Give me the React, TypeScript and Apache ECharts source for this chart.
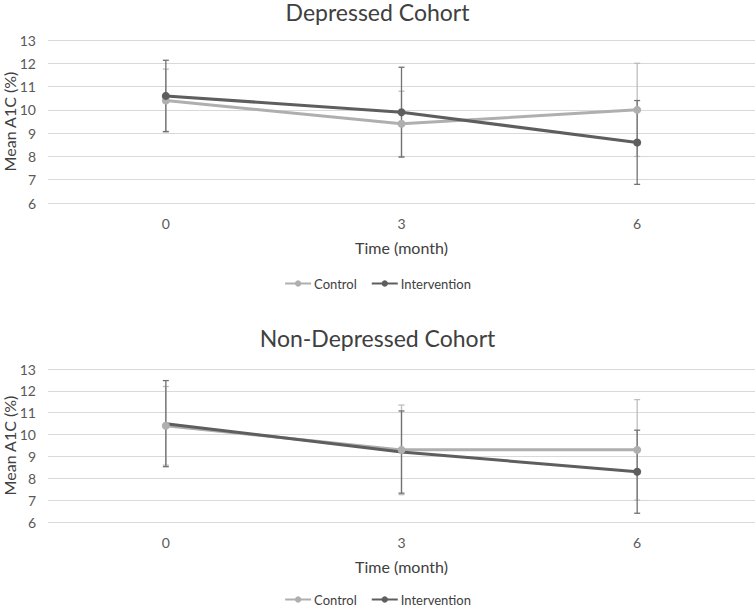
import React, { useEffect, useRef } from "react";
import * as echarts from "echarts";

const categories = ["0", "3", "6"];
const depControl = [10.4, 9.4, 10.0];
const depControlErr = [1.35, 1.4, 2.0];
const depInterv = [10.6, 9.9, 8.6];
const depIntervErr = [1.53, 1.93, 1.8];
const nonControl = [10.4, 9.3, 9.3];
const nonControlErr = [1.8, 2.05, 2.3];
const nonInterv = [10.5, 9.2, 8.3];
const nonIntervErr = [1.97, 1.88, 1.9];
const yTicks = { min: 6, max: 13, interval: 1 };

const CTRL = "#afafaf";
const INTV = "#5e5e5e";
const CTRL_ERR = "#bdbdbd";
const INTV_ERR = "#727272";
const FONT = "Lato, 'Open Sans', sans-serif";

function errData(vals: number[], errs: number[]) {
  return vals.map((v, i) => [i, v - errs[i], v + errs[i]]);
}

function errSeries(name: string, vals: number[], errs: number[], color: string, idx: number) {
  return {
    type: "custom",
    name: name + "-err",
    xAxisIndex: idx,
    yAxisIndex: idx,
    data: errData(vals, errs),
    encode: { x: 0, y: [1, 2] },
    z: 3,
    silent: true,
    renderItem: (params: any, api: any) => {
      const x = api.value(0);
      const lo = api.coord([x, api.value(1)]);
      const hi = api.coord([x, api.value(2)]);
      const hw = 3;
      const style = { stroke: color, lineWidth: 1.3 };
      return {
        type: "group",
        children: [
          { type: "line", shape: { x1: lo[0], y1: lo[1], x2: hi[0], y2: hi[1] }, style },
          { type: "line", shape: { x1: lo[0] - hw, y1: lo[1], x2: lo[0] + hw, y2: lo[1] }, style },
          { type: "line", shape: { x1: hi[0] - hw, y1: hi[1], x2: hi[0] + hw, y2: hi[1] }, style },
        ],
      };
    },
  };
}

function lineSeries(name: string, vals: any[], color: string, idx: number, symbol = "circle") {
  return {
    type: "line",
    name,
    xAxisIndex: idx,
    yAxisIndex: idx,
    data: vals,
    symbol,
    symbolSize: 8,
    showSymbol: true,
    lineStyle: { color, width: 3 },
    itemStyle: { color },
    z: 4,
  };
}

export default function App() {
  const ref = useRef<HTMLDivElement>(null);
  useEffect(() => {
    if (!ref.current) return;
    const chart = echarts.init(ref.current, null, { renderer: "svg" });
    const grids = [
      { left: 48, right: 0, top: 40, height: 163, containLabel: false, outerBoundsMode: "none" },
      { left: 48, right: 0, top: 369, height: 153, containLabel: false, outerBoundsMode: "none" },
    ];
    const xAxes = grids.map((_, i) => ({
      type: "category",
      gridIndex: i,
      data: categories,
      boundaryGap: true,
      axisLine: { show: false },
      axisTick: { show: false },
      axisLabel: { color: "#595959", fontSize: 14, fontFamily: FONT, margin: 13 },
      name: "Time (month)",
      nameLocation: "middle",
      nameGap: 36,
      nameTextStyle: { color: "#404040", fontSize: 16, fontFamily: FONT },
    }));
    const yAxes = grids.map((_, i) => ({
      type: "value",
      gridIndex: i,
      min: yTicks.min,
      max: yTicks.max,
      interval: yTicks.interval,
      axisLine: { show: false },
      axisTick: { show: false },
      axisLabel: { color: "#595959", fontSize: 14, fontFamily: FONT, margin: 12 },
      splitLine: { lineStyle: { color: "#d9d9d9", width: 1 } },
      name: "Mean A1C (%)",
      nameLocation: "middle",
      nameGap: 31,
      nameMoveOverlap: false,
      nameTextStyle: { color: "#404040", fontSize: 16, fontFamily: FONT },
    }));
    const nonIntervData = nonInterv.map((v, i) =>
      i === 2 ? { value: v, symbol: "circle", symbolSize: 8 } : { value: v, symbol: "none" }
    );
    const legendBase = {
      data: ["Control", "Intervention"],
      left: "center",
      itemWidth: 26,
      itemHeight: 8,
      itemGap: 14,
      textStyle: { color: "#404040", fontSize: 13, fontFamily: FONT, padding: [0, 0, 0, -2] },
      selectedMode: false,
    };
    chart.setOption({
      animation: false,
      backgroundColor: "#ffffff",
      title: [
        {
          text: "Depressed Cohort",
          left: "center",
          top: 0,
          padding: 0,
          textStyle: { color: "#404040", fontSize: 23, lineHeight: 23, fontWeight: "normal", fontFamily: FONT },
        },
        {
          text: "Non-Depressed Cohort",
          left: "center",
          top: 326,
          padding: 0,
          textStyle: { color: "#404040", fontSize: 23, lineHeight: 23, fontWeight: "normal", fontFamily: FONT },
        },
      ],
      legend: [
        { ...legendBase, top: 272 },
        { ...legendBase, top: 588 },
      ],
      grid: grids,
      xAxis: xAxes,
      yAxis: yAxes,
      series: [
        errSeries("Control", depControl, depControlErr, CTRL_ERR, 0),
        errSeries("Intervention", depInterv, depIntervErr, INTV_ERR, 0),
        lineSeries("Control", depControl, CTRL, 0),
        lineSeries("Intervention", depInterv, INTV, 0),
        errSeries("Control", nonControl, nonControlErr, CTRL_ERR, 1),
        errSeries("Intervention", nonInterv, nonIntervErr, INTV_ERR, 1),
        lineSeries("Control", nonControl, CTRL, 1),
        lineSeries("Intervention", nonIntervData, INTV, 1, "none"),
      ],
    });
    return () => chart.dispose();
  }, []);
  return (
    <div
      ref={ref}
      style={{ position: "fixed", left: 0, top: 0, width: 755, height: 606 }}
    />
  );
}
